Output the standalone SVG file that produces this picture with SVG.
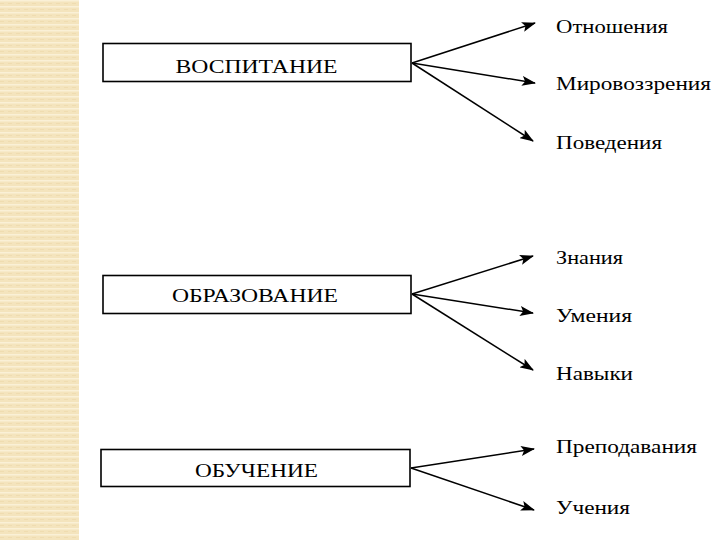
<svg xmlns="http://www.w3.org/2000/svg" width="720" height="540" viewBox="0 0 720 540">
<style>
.box{fill:#fff;stroke:#000;stroke-width:1.6}
.bt{font-family:"Liberation Serif","Times New Roman",serif;font-size:19px;fill:#000;text-anchor:middle}
.lb{font-family:"Liberation Serif","Times New Roman",serif;font-size:19px;fill:#000}
.ar{stroke:#000;stroke-width:1.5;fill:none;marker-end:url(#ah)}
</style>
<defs>
<marker id="ah" viewBox="0 0 14 10" refX="13" refY="5" markerWidth="14" markerHeight="10" markerUnits="userSpaceOnUse" orient="auto">
<path d="M0,0 L14,5 L0,10 L3,5 Z" fill="#000"/>
</marker>
<pattern id="stripe" width="8" height="6" patternUnits="userSpaceOnUse">
<rect width="8" height="6" fill="#f4e4bd"/>
<rect y="0" width="8" height="1.5" fill="#faf0d6"/>
<rect x="0" y="3" width="4" height="1" fill="#efdcb0"/>
</pattern>
</defs>
<rect width="720" height="540" fill="#fff"/>
<rect x="0" y="0" width="79" height="540" fill="url(#stripe)"/>

<g id="n-vospitanie">
<rect class="box" x="103" y="43.5" width="308" height="38"/>
<text class="bt" x="256.5" y="73" textLength="162" lengthAdjust="spacingAndGlyphs">ВОСПИТАНИЕ</text>
</g>
<g id="n-obrazovanie">
<rect class="box" x="103" y="275.5" width="308" height="38"/>
<text class="bt" x="255" y="302" textLength="166" lengthAdjust="spacingAndGlyphs">ОБРАЗОВАНИЕ</text>
</g>
<g id="n-obuchenie">
<rect class="box" x="101" y="449.5" width="309" height="37"/>
<text class="bt" x="256.5" y="477" textLength="123" lengthAdjust="spacingAndGlyphs">ОБУЧЕНИЕ</text>
</g>

<g id="l-otnosheniya"><text class="lb" x="556" y="33" textLength="112" lengthAdjust="spacingAndGlyphs">Отношения</text></g>
<g id="l-mirovozzreniya"><text class="lb" x="556" y="90" textLength="155" lengthAdjust="spacingAndGlyphs">Мировоззрения</text></g>
<g id="l-povedeniya"><text class="lb" x="556" y="149" textLength="106" lengthAdjust="spacingAndGlyphs">Поведения</text></g>
<g id="l-znaniya"><text class="lb" x="556" y="264" textLength="67" lengthAdjust="spacingAndGlyphs">Знания</text></g>
<g id="l-umeniya"><text class="lb" x="556" y="322" textLength="76" lengthAdjust="spacingAndGlyphs">Умения</text></g>
<g id="l-navyki"><text class="lb" x="556" y="380" textLength="77" lengthAdjust="spacingAndGlyphs">Навыки</text></g>
<g id="l-prepodavaniya"><text class="lb" x="556" y="453" textLength="141" lengthAdjust="spacingAndGlyphs">Преподавания</text></g>
<g id="l-ucheniya"><text class="lb" x="556" y="514" textLength="74" lengthAdjust="spacingAndGlyphs">Учения</text></g>

<g id="connectors">
<line class="ar" x1="412" y1="63" x2="535" y2="23"/>
<line class="ar" x1="412" y1="63" x2="535" y2="83"/>
<line class="ar" x1="412" y1="63" x2="533" y2="141"/>
<line class="ar" x1="412" y1="294" x2="533" y2="256"/>
<line class="ar" x1="412" y1="294" x2="533" y2="313"/>
<line class="ar" x1="412" y1="294" x2="533" y2="370"/>
<line class="ar" x1="411" y1="468" x2="534" y2="449"/>
<line class="ar" x1="411" y1="468" x2="534" y2="510"/>
</g>
</svg>
